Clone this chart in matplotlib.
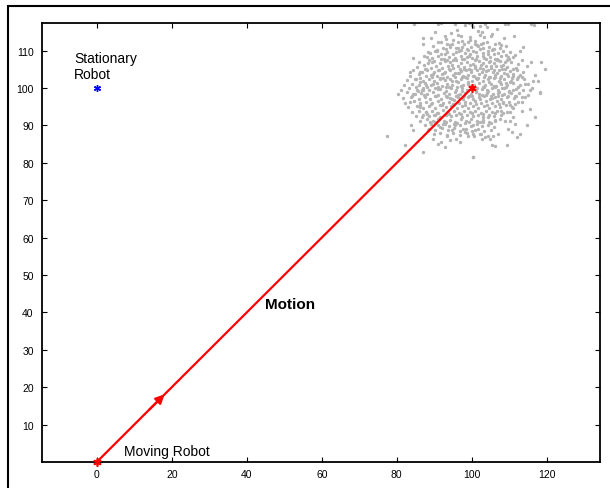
import matplotlib
matplotlib.use("Agg")
import matplotlib.pyplot as plt
from matplotlib.patches import Rectangle

plt.rcParams['font.family'] = ['Liberation Sans', 'DejaVu Sans']

# robot positions and motion
stationary_robot = (0, 100)
motion_start = (0, 0)
motion_end = (100, 100)
arrow_tail = (13.5, 13.5)
arrow_tip = (18.6, 18.6)

x_ticks = [0, 20, 40, 60, 80, 100, 120]
y_ticks = [10, 20, 30, 40, 50, 60, 70, 80, 90, 100, 110]

# gray particle cloud around the moving robot's final pose
cloud_outer = [
    (84.6, 117.2), (91.9, 117.3), (100.1, 117.0), (100.3, 116.3), (109.6, 117.1), (116.6, 117.0),
    (104.0, 116.2), (106.8, 115.8), (94.5, 114.6), (90.3, 114.9), (97.2, 114.0), (99.5, 113.6),
    (102.3, 114.3), (105.1, 113.8), (108.6, 113.4), (93.0, 113.2), (96.0, 115.6), (103.5, 117.2),
    (89.0, 113.5), (111.2, 113.9), (98.1, 116.8), (101.7, 115.2), (95.4, 117.1),
    (102.2, 116.7), (108.8, 117.2), (115.8, 117.2), (102.6, 115.1), (105.3, 114.5), (103.2, 113.6),
    (103.1, 112.1), (106.2, 111.8), (107.9, 111.4), (105.7, 110.5), (108.4, 110.0), (110.2, 109.6),
    (112.8, 109.8), (113.7, 110.9), (115.9, 107.1), (118.6, 107.1), (119.5, 105.1), (111.1, 108.3),
    (109.3, 107.4), (112.4, 106.5), (113.7, 104.2), (116.4, 102.0), (117.7, 102.0), (115.1, 101.1),
    (118.2, 98.9), (112.4, 102.9), (111.1, 103.8), (110.2, 101.6), (107.9, 106.0), (106.6, 107.8),
    (104.4, 109.1), (100.8, 111.8), (100.4, 110.0),
    (91.1, 117.2), (99.3, 117.4), (92.8, 114.0), (96.4, 114.2), (97.3, 112.7), (87.1, 113.3),
    (86.9, 111.8), (91.1, 112.3), (94.6, 111.8), (94.2, 110.9), (88.4, 109.6), (90.6, 110.0),
    (84.4, 108.0), (88.0, 108.3), (89.3, 106.9), (92.8, 109.1), (83.5, 104.4), (86.2, 104.4),
    (87.5, 105.1), (89.7, 103.8), (84.8, 102.5), (86.2, 101.6), (87.9, 100.7), (85.7, 99.3),
    (87.1, 99.6), (89.7, 101.1), (91.5, 102.5), (91.1, 99.8), (93.3, 107.4), (95.9, 109.6),
    (98.6, 110.5), (99.1, 112.3), (101.3, 111.4),
    (77.3, 87.3), (82.2, 84.8), (87.1, 82.9), (100.4, 81.5), (83.9, 90.0), (84.4, 88.7),
    (83.5, 96.2), (86.2, 94.9), (86.6, 92.2), (88.8, 90.9), (88.4, 88.7), (89.7, 86.4),
    (91.1, 85.1), (92.8, 84.2), (91.9, 85.5), (94.2, 86.0), (95.9, 86.4), (96.8, 85.5),
    (99.1, 87.3), (100.4, 87.8), (97.7, 89.1), (98.2, 88.2), (93.3, 87.3), (94.6, 88.7),
    (95.5, 90.0), (92.8, 90.4), (91.5, 89.5), (91.1, 91.8), (90.2, 92.7), (87.9, 93.6),
    (84.4, 98.5), (86.6, 99.4),
    (118.2, 98.7), (115.5, 99.4), (116.8, 92.2), (115.5, 94.5), (113.3, 94.0), (114.6, 90.0),
    (111.5, 90.4), (110.2, 91.3), (108.8, 91.3), (107.5, 91.8), (111.1, 92.2), (112.8, 87.8),
    (112.0, 86.9), (110.6, 88.2), (109.7, 89.1), (107.1, 87.8), (105.7, 87.3), (104.8, 86.4),
    (103.5, 86.9), (102.6, 86.4), (102.2, 87.8), (100.8, 88.7), (100.4, 90.0), (106.2, 84.6),
    (105.3, 84.8), (109.3, 84.8), (100.4, 81.5), (103.1, 90.9), (104.4, 92.2), (106.2, 91.3),
    (107.9, 94.0), (109.3, 93.6), (110.6, 94.9), (111.5, 95.8), (113.3, 96.2), (108.4, 96.2),
    (109.7, 98.0), (111.9, 98.0), (114.2, 97.6), (111.1, 99.4),
]

cloud_core = [
    (91.8, 112.2), (93.5, 111.9), (96.2, 112.4), (98.0, 111.7), (100.9, 112.5), (102.4, 111.8),
    (104.1, 112.3), (107.3, 112.1), (95.0, 112.8), (99.4, 112.9),
    (89.6, 111.2), (92.4, 110.8), (94.1, 111.4), (95.8, 110.6), (97.5, 111.1), (99.8, 110.9),
    (101.6, 111.3), (103.0, 110.7), (104.7, 111.0), (106.0, 110.4), (109.0, 111.2), (97.0, 110.2),
    (88.9, 109.3), (90.2, 109.8), (91.7, 109.1), (93.4, 109.6), (95.1, 109.2), (96.7, 109.9),
    (98.3, 109.4), (99.6, 109.0), (101.2, 109.7), (102.9, 109.3), (104.3, 109.8), (105.8, 109.1),
    (107.0, 109.5), (109.1, 108.8), (111.6, 108.9),
    (87.3, 108.6), (89.5, 108.0), (91.0, 108.5), (92.6, 107.9), (94.0, 108.4), (95.5, 108.1),
    (97.1, 108.7), (98.6, 108.2), (100.0, 108.0), (101.5, 108.5), (103.3, 108.1), (104.8, 108.4),
    (106.2, 107.8), (107.9, 108.6), (109.7, 108.2),
    (86.0, 107.1), (88.4, 106.8), (90.0, 107.3), (91.4, 106.6), (92.9, 107.2), (94.3, 106.9),
    (95.7, 107.4), (97.2, 106.7), (98.8, 107.1), (100.2, 106.5), (101.8, 107.3), (103.1, 106.8),
    (104.5, 107.0), (106.0, 106.6), (107.4, 107.2), (108.9, 106.9), (110.5, 107.0), (113.5, 107.4),
    (85.3, 105.6), (87.2, 106.1), (89.0, 105.5), (90.5, 106.0), (92.0, 105.4), (93.6, 105.9),
    (95.0, 105.3), (96.4, 106.0), (97.8, 105.6), (99.3, 105.2), (100.8, 105.9), (102.2, 105.4),
    (103.7, 106.0), (105.1, 105.5), (106.5, 105.8), (108.0, 105.2), (109.5, 105.7), (111.8, 105.5),
    (114.8, 105.9),
    (84.2, 104.8), (86.6, 104.3), (88.1, 104.7), (89.9, 104.2), (91.3, 104.9), (92.8, 104.4),
    (94.2, 104.8), (95.6, 104.1), (97.1, 104.6), (98.5, 104.9), (99.9, 104.3), (101.3, 104.7),
    (102.8, 104.2), (104.2, 104.9), (105.7, 104.4), (107.2, 104.8), (108.6, 104.1), (110.3, 104.5),
    (112.0, 104.7),
    (83.6, 103.3), (85.9, 103.7), (87.8, 103.1), (89.2, 103.6), (90.7, 103.2), (92.1, 103.8),
    (93.5, 103.0), (94.9, 103.5), (96.3, 103.9), (97.7, 103.3), (99.1, 103.6), (100.5, 103.1),
    (101.9, 103.8), (103.4, 103.4), (104.9, 103.0), (106.3, 103.6), (107.8, 103.2), (109.3, 103.7),
    (110.9, 103.3), (112.9, 103.5), (116.9, 103.4),
    (82.8, 102.1), (85.0, 102.5), (86.9, 101.9), (88.5, 102.4), (90.0, 102.0), (91.4, 102.6),
    (92.9, 102.1), (94.3, 102.5), (95.7, 101.9), (97.1, 102.3), (98.6, 102.7), (100.0, 102.0),
    (101.4, 102.4), (102.9, 101.8), (104.3, 102.3), (105.8, 102.6), (107.2, 102.0), (108.7, 102.4),
    (110.4, 101.9), (112.1, 102.3), (114.0, 102.5),
    (81.9, 100.8), (84.0, 101.2), (86.0, 100.7), (87.6, 101.3), (89.1, 100.9), (90.6, 101.4),
    (92.0, 100.6), (93.4, 101.1), (94.8, 100.8), (96.2, 101.5), (97.6, 100.9), (99.0, 101.2),
    (100.6, 100.7), (102.0, 101.4), (103.5, 100.9), (105.0, 101.2), (106.5, 100.6), (107.9, 101.1),
    (109.4, 100.8), (111.0, 101.3), (112.8, 100.9), (114.3, 101.1),
    (81.0, 99.6), (83.3, 100.1), (85.4, 99.5), (87.0, 99.9), (88.6, 99.4), (90.1, 100.0),
    (91.6, 99.7), (93.0, 99.3), (94.4, 99.9), (95.9, 99.5), (97.3, 100.1), (98.7, 99.6),
    (101.2, 99.2), (102.6, 99.8), (104.0, 99.4), (105.5, 100.0), (107.0, 99.5), (108.5, 99.9),
    (110.0, 99.3), (111.7, 99.8), (113.6, 99.5), (116.0, 99.9),
    (80.3, 98.4), (82.7, 98.9), (84.8, 98.3), (86.5, 98.8), (88.1, 98.5), (89.6, 98.9),
    (91.1, 98.2), (92.5, 98.7), (94.0, 98.4), (95.4, 98.9), (96.9, 98.3), (98.3, 98.8),
    (99.7, 98.5), (101.1, 98.9), (102.6, 98.2), (104.1, 98.7), (105.6, 98.4), (107.1, 98.8),
    (108.7, 98.3), (110.5, 98.6), (112.6, 98.8), (114.9, 98.2),
    (81.6, 97.3), (83.9, 97.7), (85.8, 97.1), (87.4, 97.5), (88.9, 97.2), (90.4, 97.8),
    (91.8, 97.0), (93.3, 97.5), (94.7, 97.1), (96.2, 97.7), (97.6, 97.2), (99.0, 97.6),
    (100.4, 97.0), (101.9, 97.5), (103.3, 97.8), (104.8, 97.1), (106.3, 97.6), (107.8, 97.2),
    (109.4, 97.7), (111.2, 97.3), (113.4, 97.6),
    (82.3, 96.1), (84.6, 96.5), (86.3, 95.9), (87.9, 96.4), (89.4, 96.0), (90.9, 96.6),
    (92.3, 95.9), (93.8, 96.3), (95.2, 96.7), (96.7, 96.0), (98.1, 96.4), (99.5, 96.1),
    (100.9, 96.6), (102.4, 96.0), (103.8, 96.5), (105.3, 96.1), (106.8, 96.6), (108.3, 96.0),
    (110.0, 96.4), (112.2, 96.2),
    (83.0, 94.9), (85.4, 95.3), (87.1, 94.8), (88.7, 95.2), (90.2, 94.7), (91.6, 95.4),
    (93.1, 94.9), (94.5, 95.3), (96.0, 94.8), (97.4, 95.2), (98.9, 94.6), (100.3, 95.1),
    (101.7, 94.8), (103.2, 95.3), (104.7, 94.7), (106.1, 95.2), (107.6, 94.9), (109.1, 95.4),
    (110.9, 94.8),
    (84.1, 93.6), (86.0, 94.0), (87.7, 93.5), (89.3, 93.9), (90.8, 93.4), (92.3, 94.1),
    (93.7, 93.6), (95.2, 93.9), (96.6, 93.3), (98.0, 93.8), (99.5, 93.5), (100.9, 94.0),
    (102.4, 93.4), (103.8, 93.9), (105.3, 93.5), (106.8, 93.8), (108.4, 93.3), (110.2, 93.7),
    (85.2, 92.5), (87.0, 92.9), (88.6, 92.4), (90.0, 92.8), (91.5, 92.3), (93.0, 92.9),
    (94.4, 92.5), (95.9, 92.7), (97.3, 92.2), (98.8, 92.8), (100.2, 92.4), (101.7, 92.9),
    (103.1, 92.3), (104.6, 92.7), (106.0, 92.4), (107.7, 92.8),
    (86.3, 91.2), (88.1, 91.6), (89.7, 91.1), (91.2, 91.7), (92.7, 91.3), (94.1, 91.5),
    (95.6, 91.0), (97.0, 91.6), (98.5, 91.2), (99.9, 91.7), (101.4, 91.1), (102.9, 91.5),
    (104.5, 91.0), (106.3, 91.4),
    (87.4, 90.1), (89.2, 90.5), (90.9, 90.0), (92.4, 90.4), (93.9, 89.9), (95.3, 90.5),
    (96.8, 90.1), (98.3, 90.6), (99.8, 89.9), (101.3, 90.3), (102.8, 89.8), (104.4, 90.2),
    (106.0, 89.7),
    (88.5, 89.0), (90.3, 88.7), (92.0, 89.3), (93.6, 88.8), (95.2, 89.2), (96.9, 88.6),
    (98.4, 89.1), (100.0, 88.5), (101.6, 89.0), (103.3, 88.4), (105.1, 88.9),
    (89.8, 87.6), (91.6, 88.0), (93.4, 87.4), (95.1, 87.9), (96.9, 87.5), (98.7, 87.9),
    (100.6, 87.2), (102.5, 87.7), (104.3, 87.1),
    (96.6, 104.0), (98.0, 105.0), (99.5, 106.3), (100.9, 105.5), (102.4, 106.1), (103.8, 104.6),
    (105.2, 105.9), (106.7, 104.0), (97.4, 102.9), (98.9, 101.7), (100.3, 103.3), (101.7, 102.8),
    (103.2, 103.0), (104.6, 101.6), (106.1, 102.9), (107.5, 101.5), (96.1, 100.4), (97.5, 99.1),
    (99.9, 100.5), (101.5, 100.0), (102.9, 100.3), (104.4, 99.1), (105.9, 100.5), (107.3, 98.9),
    (95.8, 98.0), (97.9, 97.9), (100.1, 97.8), (102.1, 97.1), (103.7, 98.1), (105.4, 97.3),
    (106.9, 97.9), (108.1, 100.1), (94.6, 101.8), (93.1, 100.3), (94.2, 97.4), (92.6, 104.1),
    (94.8, 106.1), (97.3, 107.8), (99.2, 108.6), (101.1, 107.7), (103.0, 108.7), (104.9, 107.3),
    (106.7, 107.6), (108.2, 106.2), (109.6, 103.1), (109.1, 101.3), (110.0, 99.0),
]

cloud_fill = [
    (90.8, 110.3), (93.0, 110.5), (96.4, 110.6), (98.9, 110.2), (102.2, 110.4), (105.3, 110.1),
    (107.6, 110.6), (88.7, 107.6), (91.8, 107.7), (94.9, 107.5), (97.9, 107.9), (100.9, 107.6),
    (103.9, 107.8), (106.9, 107.5), (109.8, 107.7), (87.9, 105.1), (90.9, 104.9), (93.9, 105.2),
    (96.9, 105.0), (99.9, 104.8), (102.9, 105.2), (105.9, 104.9), (108.9, 105.1), (111.0, 105.0),
    (86.2, 102.8), (89.4, 102.9), (92.4, 102.7), (95.4, 102.9), (98.1, 103.0), (101.2, 102.6),
    (104.5, 102.9), (107.6, 102.8), (110.6, 102.7), (113.4, 102.9), (85.1, 100.2), (88.1, 100.4),
    (91.0, 100.3), (94.0, 100.2), (97.0, 100.5), (100.5, 99.8), (103.2, 100.4), (106.3, 100.2),
    (109.2, 100.4), (112.3, 100.3), (84.1, 97.9), (87.2, 98.1), (90.2, 98.0), (93.2, 97.9),
    (96.3, 98.2), (99.2, 98.0), (102.0, 98.3), (105.0, 97.9), (108.0, 98.1), (111.5, 98.0),
    (86.1, 95.6), (89.0, 95.7), (92.0, 95.6), (95.0, 95.8), (98.2, 95.6), (101.2, 95.7),
    (104.0, 95.5), (107.2, 95.7), (110.2, 95.6), (88.1, 93.1), (91.0, 93.2), (94.0, 93.0),
    (97.1, 93.1), (100.0, 93.2), (103.0, 93.0), (106.2, 93.2), (90.1, 90.8), (93.1, 90.9),
    (96.1, 90.7), (99.2, 90.9), (102.1, 90.8), (105.1, 90.7),
]

all_points = cloud_outer + cloud_core + cloud_fill
cloud_x = [p[0] for p in all_points]
cloud_y = [p[1] for p in all_points]

fig = plt.figure(figsize=(6.10, 4.89), dpi=100)
ax = fig.add_axes([0.0689, 0.0532, 0.9147, 0.8977])

# particles
ax.scatter(cloud_x, cloud_y, s=6, color='#b4b4b4', linewidths=0, zorder=1)

# motion of the moving robot
ax.plot([motion_start[0], motion_end[0]], [motion_start[1], motion_end[1]],
        color='red', lw=1.6, zorder=3)
asterisk = (6, 2, 0)
ax.plot([motion_start[0], motion_end[0]], [motion_start[1], motion_end[1]],
        linestyle='none', marker=asterisk, color='red', markersize=6, mew=1.2,
        zorder=4, clip_on=False)
ax.annotate('', xy=arrow_tip, xytext=arrow_tail,
            arrowprops=dict(arrowstyle='-|>', color='red', lw=1.6, mutation_scale=13))

# stationary robot
ax.plot(stationary_robot[0], stationary_robot[1], linestyle='none', marker=asterisk,
        color='blue', markersize=5, mew=1.0, zorder=4)

ax.text(-6.1, 106.0, 'Stationary\nRobot', fontsize=10, va='center', ha='left')
ax.text(7.3, 2.0, 'Moving Robot', fontsize=10, va='baseline', ha='left')
ax.text(44.9, 41.2, 'Motion', fontsize=11, fontweight='bold', va='baseline', ha='left')

ax.set_xlim(-14.6, 134.2)
ax.set_ylim(0, 117.4)
ax.set_xticks(x_ticks)
ax.set_yticks(y_ticks)
ax.tick_params(direction='in', length=3.5, width=0.8, labelsize=7.5,
               top=True, right=True)
ax.tick_params(axis='x', pad=5)
ax.tick_params(axis='y', pad=6)
for sp in ax.spines.values():
    sp.set_linewidth(1.3)

# outer frame of the figure window
fig.patches.append(Rectangle((8 / 610, -0.2), 1.2, 1.2 - 7 / 489, transform=fig.transFigure,
                             fill=False, lw=1.5, edgecolor='black'))

fig.savefig('out.png', dpi=100)
